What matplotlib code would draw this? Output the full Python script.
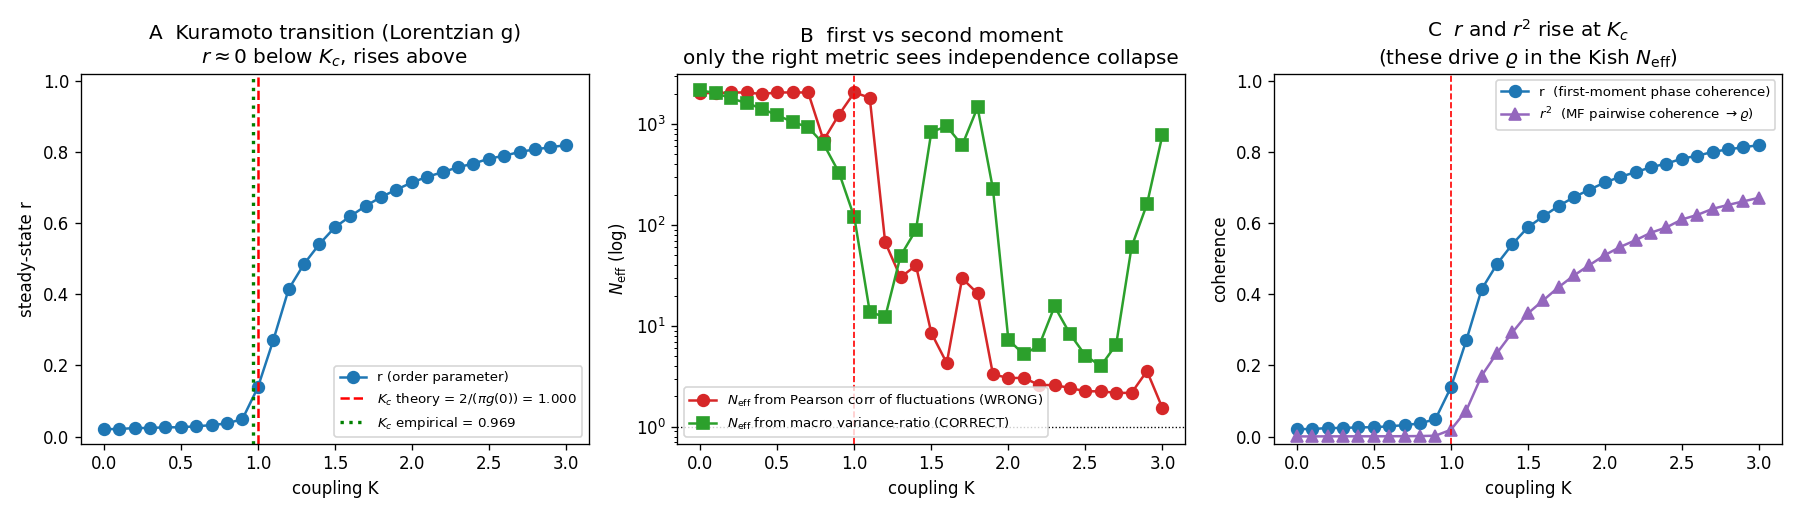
import numpy as np
import matplotlib
matplotlib.use("Agg")
import matplotlib.pyplot as plt

K = [0.0, 0.1, 0.2, 0.3, 0.4, 0.5, 0.6, 0.7, 0.8, 0.9, 1.0, 1.1, 1.2, 1.3, 1.4, 1.5,
     1.6, 1.7, 1.8, 1.9, 2.0, 2.1, 2.2, 2.3, 2.4, 2.5, 2.6, 2.7, 2.8, 2.9, 3.0]

r_vals = [0.021, 0.021, 0.024, 0.024, 0.026, 0.026, 0.029, 0.032, 0.037, 0.049, 0.138,
          0.270, 0.414, 0.485, 0.541, 0.588, 0.619, 0.648, 0.673, 0.694, 0.714, 0.730,
          0.743, 0.757, 0.767, 0.781, 0.789, 0.800, 0.807, 0.813, 0.819]

r2_vals = [0.0004, 0.0004, 0.0006, 0.0006, 0.0007, 0.0007, 0.0008, 0.0010, 0.0014, 0.0024,
           0.019, 0.073, 0.171, 0.235, 0.293, 0.346, 0.383, 0.420, 0.453, 0.482, 0.510,
           0.533, 0.552, 0.573, 0.588, 0.610, 0.623, 0.640, 0.651, 0.661, 0.671]

neff_pearson = [2028, 2028, 2055, 2055, 1983, 2055, 2055, 2055, 690, 1238, 2055, 1823,
                67.5, 30.3, 39.7, 8.5, 4.28, 29.6, 21.0, 3.31, 3.05, 3.05, 2.60, 2.59,
                2.43, 2.25, 2.25, 2.17, 2.17, 3.57, 1.54]

neff_macro = [2153, 2028, 1794, 1615, 1419, 1218, 1049, 928, 636, 331, 119, 13.8, 12.2,
              49.4, 89.3, 836, 949, 616, 1462, 227, 7.32, 5.21, 6.40, 15.6, 8.34, 5.09,
              4.0, 6.54, 60.6, 161, 773]

Kc_theory = 1.000
Kc_emp = 0.969

fig, axes = plt.subplots(1, 3, figsize=(15, 4.3), dpi=120)
ms = 7

# Panel A
ax = axes[0]
ax.plot(K, r_vals, 'o-', color='C0', ms=ms, label='r (order parameter)')
ax.axvline(Kc_theory, color='red', ls='--', lw=1.5,
           label=r'$K_c$ theory = $2/(\pi g(0))$ = %.3f' % Kc_theory)
ax.axvline(Kc_emp, color='green', ls=':', lw=2,
           label=r'$K_c$ empirical = %.3f' % Kc_emp)
ax.set_ylim(-0.02, 1.02)
ax.set_xlabel('coupling K')
ax.set_ylabel('steady-state r')
ax.set_title('A  Kuramoto transition (Lorentzian g)\n$r \\approx 0$ below $K_c$, rises above')
ax.legend(loc='lower right', fontsize=8)

# Panel B
ax = axes[1]
ax.semilogy(K, neff_pearson, 'o-', color='tab:red', ms=ms,
            label=r'$N_{\rm eff}$ from Pearson corr of fluctuations (WRONG)')
ax.semilogy(K, neff_macro, 's-', color='tab:green', ms=ms,
            label=r'$N_{\rm eff}$ from macro variance-ratio (CORRECT)')
ax.axvline(Kc_theory, color='red', ls='--', lw=1)
ax.axhline(1, color='k', ls=':', lw=0.8)
ax.set_xlabel('coupling K')
ax.set_ylabel(r'$N_{\rm eff}$ (log)')
ax.set_title('B  first vs second moment\nonly the right metric sees independence collapse')
ax.legend(loc='lower left', fontsize=8)

# Panel C
ax = axes[2]
ax.plot(K, r_vals, 'o-', color='C0', ms=ms, label='r  (first-moment phase coherence)')
ax.plot(K, r2_vals, '^-', color='tab:purple', ms=ms,
        label=r'$r^2$  (MF pairwise coherence $\to \varrho$)')
ax.axvline(Kc_theory, color='red', ls='--', lw=1)
ax.set_ylim(-0.02, 1.02)
ax.set_xlabel('coupling K')
ax.set_ylabel('coherence')
ax.set_title('C  $r$ and $r^2$ rise at $K_c$\n(these drive $\\varrho$ in the Kish $N_{\\rm eff}$)')
ax.legend(loc='upper right', fontsize=8)

fig.tight_layout()
fig.savefig('out.png', dpi=120)
